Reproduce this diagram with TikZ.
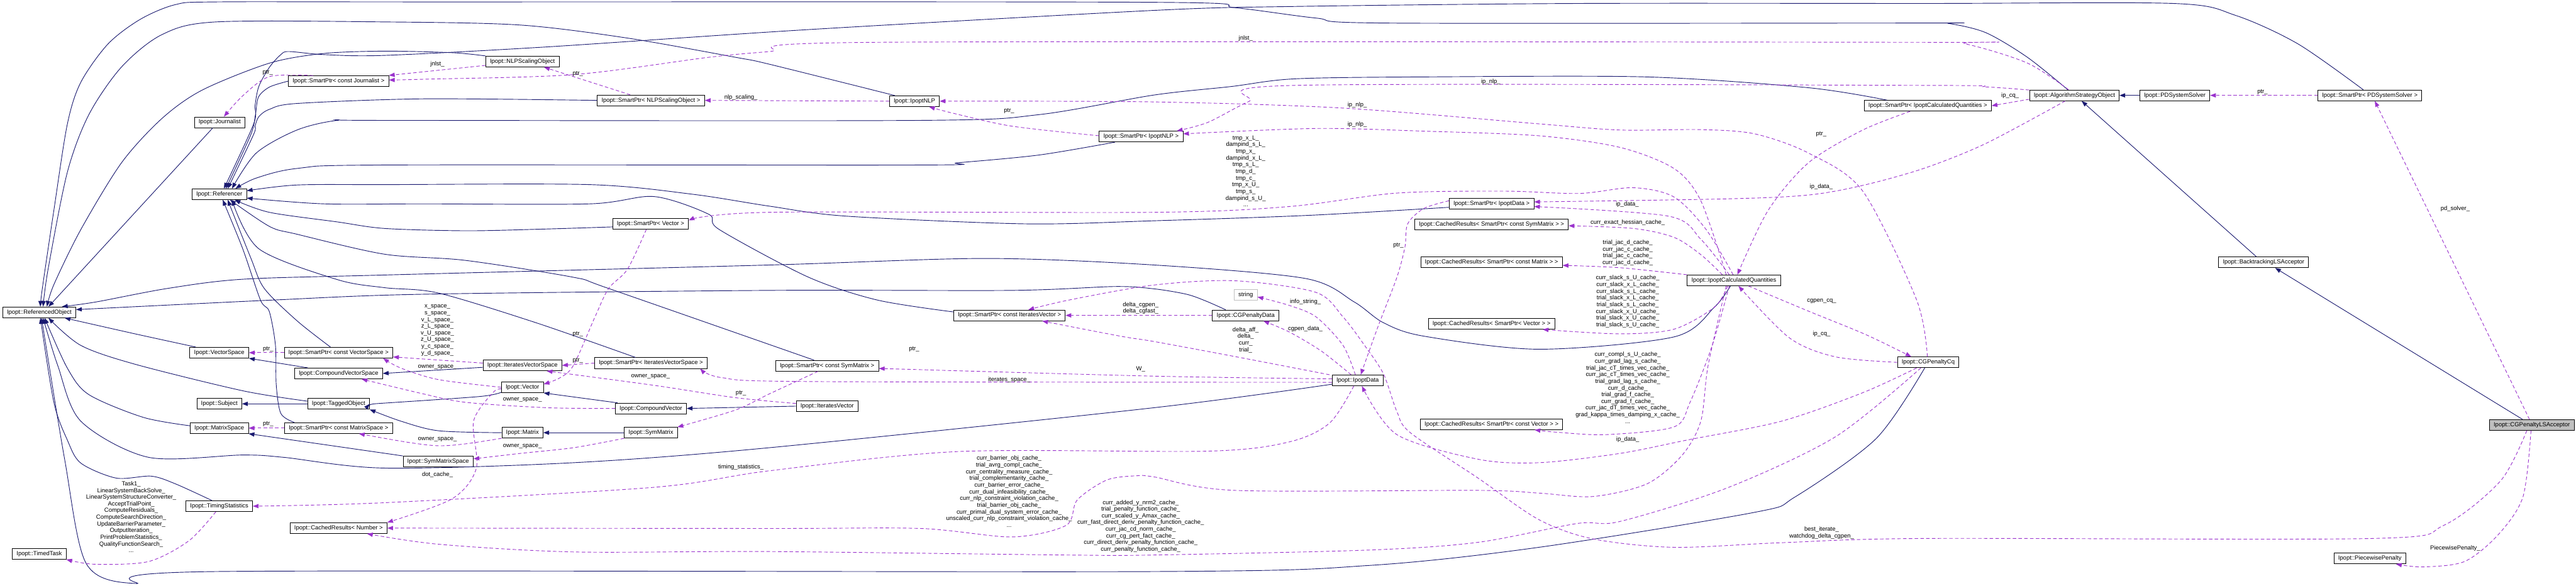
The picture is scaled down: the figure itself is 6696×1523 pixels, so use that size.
\documentclass[tikz,border=0pt]{standalone}
\usepackage{fontspec}
\setmainfont{Liberation Sans}
\usetikzlibrary{arrows.meta}
\definecolor{ibl}{HTML}{191970}
\definecolor{upl}{HTML}{9A32CD}
\newcommand\lbl{\fontsize{15.5}{17.4}\selectfont}
\tikzset{
 cls/.style={draw=black, fill=white, font=\lbl, inner xsep=11pt, inner ysep=0pt, minimum height=28pt, line width=1.3pt},
 inh/.style={draw=ibl, line width=1.5pt, -{Triangle[length=15pt,width=11pt]}},
 usg/.style={draw=upl, line width=1.5pt, dash pattern=on 9pt off 6pt, -{Triangle[length=15pt,width=11pt]}},
 elab/.style={font=\lbl, align=center, inner sep=0pt},
}
\begin{document}
\begin{tikzpicture}[x=1pt,y=-1pt]
\useasboundingbox (0,0) rectangle (6696,1523);
\fill[white] (0,0) rectangle (6696,1523);
% nodes
\node[cls] (RO) at (102,812) {Ipopt::ReferencedObject};
\node[cls] (TT) at (102,1440) {Ipopt::TimedTask};
\node[cls] (Jn) at (571,318) {Ipopt::Journalist};
\node[cls] (Rf) at (570,505) {Ipopt::Referencer};
\node[cls] (VS) at (570,917) {Ipopt::VectorSpace};
\node[cls] (Sub) at (570,1050) {Ipopt::Subject};
\node[cls] (MS) at (570,1113) {Ipopt::MatrixSpace};
\node[cls] (TS) at (570,1316) {Ipopt::TimingStatistics};
\node[cls] (SPJ) at (880,211) {Ipopt::SmartPtr< const Journalist >};
\node[cls] (SPVS) at (880,917) {Ipopt::SmartPtr< const VectorSpace >};
\node[cls] (CVS) at (880,971) {Ipopt::CompoundVectorSpace};
\node[cls] (TO) at (880,1050) {Ipopt::TaggedObject};
\node[cls] (SPMS) at (880,1113) {Ipopt::SmartPtr< const MatrixSpace >};
\node[cls] (CRN) at (880,1373) {Ipopt::CachedResults< Number >};
\node[cls] (NSO) at (1358,160) {Ipopt::NLPScalingObject};
\node[cls] (IVS) at (1358,950) {Ipopt::IteratesVectorSpace};
\node[cls] (Vec) at (1358,1007) {Ipopt::Vector};
\node[cls] (Mat) at (1358,1125) {Ipopt::Matrix};
\node[cls] (SMS) at (1139,1200) {Ipopt::SymMatrixSpace};
\node[cls] (SPNSO) at (1692,261) {Ipopt::SmartPtr< NLPScalingObject >};
\node[cls] (SPV) at (1691,582) {Ipopt::SmartPtr< Vector >};
\node[cls] (SPIVS) at (1692,944) {Ipopt::SmartPtr< IteratesVectorSpace >};
\node[cls] (CV) at (1692,1062) {Ipopt::CompoundVector};
\node[cls] (SM) at (1692,1125) {Ipopt::SymMatrix};
\node[cls] (SPSM) at (2150,951) {Ipopt::SmartPtr< const SymMatrix >};
\node[cls] (IV) at (2150,1056) {Ipopt::IteratesVector};
\node[cls] (NLP) at (2377,263) {Ipopt::IpoptNLP};
\node[cls] (SPIV) at (2624,820) {Ipopt::SmartPtr< const IteratesVector >};
\node[cls] (SPNLP) at (2966,355) {Ipopt::SmartPtr< IpoptNLP >};
\node[cls, draw=gray!50] (Str) at (3238,766) {string};
\node[cls] (CGD) at (3238,820) {Ipopt::CGPenaltyData};
\node[cls] (IpD) at (3529,989) {Ipopt::IpoptData};
\node[cls] (SPD) at (3877,530) {Ipopt::SmartPtr< IpoptData >};
\node[cls] (CRSM) at (3877,584) {Ipopt::CachedResults< SmartPtr< const SymMatrix > >};
\node[cls] (CRM) at (3877,681) {Ipopt::CachedResults< SmartPtr< const Matrix > >};
\node[cls] (CRV) at (3877,842) {Ipopt::CachedResults< SmartPtr< Vector > >};
\node[cls] (CRCV) at (3877,1103) {Ipopt::CachedResults< SmartPtr< const Vector > >};
\node[cls] (CQ) at (4507,729) {Ipopt::IpoptCalculatedQuantities};
\node[cls] (SPCQ) at (5011,275) {Ipopt::SmartPtr< IpoptCalculatedQuantities >};
\node[cls] (CGQ) at (5012,942) {Ipopt::CGPenaltyCq};
\node[cls] (ASO) at (5392,248) {Ipopt::AlgorithmStrategyObject};
\node[cls] (PDS) at (5653,248) {Ipopt::PDSystemSolver};
\node[cls] (BLS) at (5884,682) {Ipopt::BacktrackingLSAcceptor};
\node[cls] (SPPDS) at (6160,248) {Ipopt::SmartPtr< PDSystemSolver >};
\node[cls] (PP) at (6160,1452) {Ipopt::PiecewisePenalty};
\node[cls, fill=gray!50] (CGL) at (6581,1105) {Ipopt::CGPenaltyLSAcceptor};

% inheritance edges
\draw[inh] plot[smooth] coordinates {(SPJ.west) (701,226) (672,252) (664,298) (652,350) ([xshift=17]Rf.north)};
\draw[inh] plot[smooth] coordinates {(SPNSO.west) (1100,257) (772,269) (701,284) (673,303) (663,328) (659,350) ([xshift=22]Rf.north)};
\draw[inh] plot[smooth] coordinates {([xshift=-68]SPNLP.south) (2701,403) (2491,423) (2393,429) (1000,429) (772,438) (666,463) ([xshift=42]Rf.north)};
\draw[inh] plot[smooth] coordinates {([yshift=-9]SPD.west) (3400,560) (3000,574) (2666,582) (2200,562) (2000,536) (1800,505) (1533,480) (1000,480) (772,481) ([yshift=9]Rf.east)};
\draw[inh] plot[smooth] coordinates {([xshift=-106]SPCQ.north) (4700,228) (4280,200) (3700,200) (3365,205) (3200,225) (3000,247) (2701,298) (2393,313) (1000,313) (877,313) (772,338) (666,398) ([xshift=33]Rf.north)};
\draw[inh] plot[smooth] coordinates {([xshift=-17]SPPDS.north) (5973,114) (5811,40) (5649,9) (5000,9) (4100,9) (3351,17) (3000,27) (2100,77) (1421,122) (1000,144) (842,142) (751,134) (730,142) (701,174) (673,224) (663,274) (659,323) ([xshift=12]Rf.north)};
\draw[inh] plot[smooth] coordinates {([yshift=-8]SPV.west) (1400,596) (1210,600) (1000,594) (877,577) (700,552) ([xshift=40]Rf.south)};
\draw[inh] plot[smooth] coordinates {([xshift=-21]SPVS.north) (772,834) (687,750) (652,671) ([xshift=22]Rf.south)};
\draw[inh] plot[smooth] coordinates {([xshift=-115]SPMS.north) (730,1075) (718,1000) (716,898) (700,810) (677,780) (631,647) ([xshift=9]Rf.south)};
\draw[inh] plot[smooth] coordinates {([xshift=-40]SPIVS.north) (1393,839) (1140,762) (1000,748) (877,727) (673,647) ([xshift=33]Rf.south)};
\draw[inh] plot[smooth] coordinates {([xshift=-34]SPSM.north) (1582,750) (1491,721) (1210,677) (1000,661) (772,609) (701,589) ([xshift=28]Rf.south)};
\draw[inh] plot[smooth] coordinates {([yshift=9]SPIV.west) (2280,780) (2100,720) (1870,597) (1842,557) (1700,511) (1533,530) (1100,530) (842,530) ([yshift=-10]Rf.east)};
\draw[inh] ([xshift=-18]Jn.south) -- ([xshift=24]RO.north);
\draw[inh] plot[smooth] coordinates {(NSO.north west) (1175,137) (1000,133) (842,139) (701,164) (526,234) (421,308) (316,423) (210,597) (140,740) ([xshift=20]RO.north)};
\draw[inh] plot[smooth] coordinates {([xshift=-51]NLP.north) (2000,167) (1912,149) (1631,99) (1351,65) (1000,57) (561,57) (421,90) (316,174) (231,298) (175,448) (125,700) ([xshift=10]RO.north)};
\draw[inh] plot[smooth] coordinates {([xshift=-17]ASO.north) (5270,149) (5162,85) (5065,61) (5000,60) (3610,60) (3421,47) (3210,20) (3000,6) (1100,5) (561,5) (456,12) (365,50) (281,114) (210,214) (175,323) (140,547) (110,750) ([xshift=3]RO.north)};
\draw[inh] plot[smooth] coordinates {([xshift=-9]CQ.south) (4456,799) (4351,876) (4000,908) (3701,874) (3596,839) (3520,785) (3393,724) (3000,689) (2561,672) (2000,689) (1000,715) (631,726) (435,750) (250,785) ([xshift=59]RO.north)};
\draw[inh] plot[smooth] coordinates {([yshift=-10]IpD.west) (3000,1060) (2000,1164) (1491,1203) (1000,1217) (737,1189) (631,1183) (386,1189) (210,1095) (150,950) ([xshift=10]RO.south)};
\draw[inh] plot[smooth] coordinates {([xshift=-61]VS.north) (351,868) ([xshift=66]RO.south)};
\draw[inh] plot[smooth] coordinates {([yshift=7]TO.west) (631,1016) (351,947) (210,898) ([xshift=24]RO.south)};
\draw[inh] plot[smooth] coordinates {([yshift=6]MS.west) (372,1085) (231,1026) (175,957) ([xshift=14]RO.south)};
\draw[inh] plot[smooth] coordinates {([xshift=-19]TS.north) (456,1258) (393,1238) (302,1243) (210,1204) (175,1144) (140,1046) ([xshift=3]RO.south)};
\draw[inh] plot[smooth] coordinates {([xshift=-52]CGD.north) (3133,782) (3084,765) (3000,751) (2898,745) (2631,755) (2000,755) (1100,765) (712,780) ([yshift=7]RO.east)};
\draw[inh] plot[smooth] coordinates {([xshift=-9]CGQ.south) (4877,1140) (4666,1292) (4561,1332) (4000,1423) (3561,1470) (3000,1486) (561,1486) (351,1517) (224,1465) (168,1194) ([xshift=6]RO.south)};
\draw[inh] (PDS.west) -- (ASO.east);
\draw[inh] ([xshift=-19]BLS.north) -- ([xshift=19]ASO.south);
\draw[inh] ([xshift=-24]CGL.north) -- ([xshift=30]BLS.south);
\draw[inh] ([xshift=-80]CVS.north) -- (VS.south east);
\draw[inh] ([yshift=-5]IVS.west) -- (CVS.east);
\draw[inh] (TO.west) -- (Sub.east);
\draw[inh] plot[smooth] coordinates {([yshift=-13]Vec.west) (1246,1031) (1000,1048) (TO.east)};
\draw[inh] plot[smooth] coordinates {(Mat.west) (1140,1120) (1042,1095) (TO.south east)};
\draw[inh] ([xshift=-87]CV.north) -- (Vec.south east);
\draw[inh] (SM.west) -- (Mat.east);
\draw[inh] (IV.west) -- (CV.east);
\draw[inh] (SMS.north west) -- (MS.south east);

% usage edges
\draw[usg] plot[smooth] coordinates {([xshift=-66]SPJ.north) (701,199) (631,249) ([xshift=11]Jn.north)};
\draw[usg] ([yshift=-10]NSO.west) -- ([yshift=15]SPJ.east);
\draw[usg] plot[smooth] coordinates {([xshift=-15]ASO.north) (5270,164) (5108,114) (5000,110) (2280,110) (2000,134) (1842,149) (1491,194) (1100,206) ([yshift=3]SPJ.east)};
\draw[usg] ([xshift=-54]SPNSO.north) -- ([xshift=56]NSO.south);
\draw[usg] (NLP.west) -- (SPNSO.east);
\draw[usg] plot[smooth] coordinates {([yshift=2]SPNLP.west) (2630,328) (2480,295) ([xshift=38]NLP.south)};
\draw[usg] plot[smooth] coordinates {([yshift=14]ASO.west) (5162,226) (5000,222) (3365,222) (3246,264) (3140,318) ([xshift=93]SPNLP.north)};
\draw[usg] plot[smooth] coordinates {([xshift=-20]CQ.north) (4421,522) (4351,438) (4210,383) (4000,353) (3701,341) (3421,334) ([yshift=7]SPNLP.east)};
\draw[usg] plot[smooth] coordinates {([xshift=-2]CGQ.north) (4982,780) (4842,497) (4701,398) (4561,348) (4421,337) (4210,338) (4000,322) (3491,281) (3000,265) (NLP.east)};
\draw[usg] plot[smooth] coordinates {([yshift=8]SPD.west) (3701,542) (3659,582) (3652,642) (3631,721) (3582,849) ([xshift=8]IpD.north)};
\draw[usg] plot[smooth] coordinates {([xshift=-24]ASO.south) (5162,373) (5000,438) (4842,482) (4701,507) (4491,517) ([yshift=5]SPD.east)};
\draw[usg] plot[smooth] coordinates {([xshift=-12]CQ.north) (4421,622) (4337,562) ([yshift=-7]SPD.east)};
\draw[usg] plot[smooth] coordinates {([xshift=-2]CQ.north) (4435,597) (4351,512) (4245,488) (4105,503) (3912,497) (3631,502) (3351,537) (3000,552) (2000,552) ([yshift=9]SPV.east)};
\draw[usg] plot[smooth] coordinates {([xshift=-30]CQ.north) (4421,662) (4351,617) (4246,594) ([yshift=-3]CRSM.east)};
\draw[usg] plot[smooth] coordinates {(CQ.north west) (4210,696) ([yshift=-9]CRM.east)};
\draw[usg] plot[smooth] coordinates {([xshift=-16]CQ.south) (4456,799) (4351,856) (4210,868) ([xshift=133]CRV.south)};
\draw[usg] plot[smooth] coordinates {([xshift=-12]CQ.south) (4450,900) (4393,1046) (4351,1110) (4175,1130) (4050,1124) ([xshift=112]CRCV.south)};
\draw[usg] plot[smooth] coordinates {([xshift=-46]SPCQ.south) (4842,338) (4701,423) (4596,547) ([xshift=9]CQ.north)};
\draw[usg] ([yshift=-10]ASO.west) -- (SPCQ.east);
\draw[usg] plot[smooth] coordinates {([xshift=38]CQ.south) (4701,809) (4850,870) ([xshift=-44]CGQ.north)};
\draw[usg] plot[smooth] coordinates {(CGQ.west) (4772,928) (4652,879) ([xshift=12]CQ.south)};
\draw[usg] plot[smooth] coordinates {([xshift=-30]CGQ.south) (4842,1021) (4631,1095) (4386,1144) (4210,1179) (4000,1203) (3842,1194) (3631,1130) ([xshift=11]IpD.south)};
\draw[usg] plot[smooth] coordinates {([xshift=-19]CGQ.south) (4772,1135) (4491,1268) (4210,1356) (4100,1361) (3842,1410) (3561,1430) (3000,1443) (2771,1443) (2000,1434) (1491,1435) (1140,1415) ([xshift=74]CRN.south)};
\draw[usg] plot[smooth] coordinates {([xshift=-20]CQ.south) (4440,950) (4421,1095) (4372,1184) (4281,1258) (4140,1291) (4000,1282) (3842,1275) (3210,1275) (3000,1240) (2954,1237) (2877,1248) (2800,1300) (2771,1366) (2631,1396) (2393,1374) (2000,1374) (CRN.east)};
\draw[usg] plot[smooth] coordinates {([xshift=-13]CGL.south) (6500,1250) (6352,1366) (6168,1400) (5000,1400) (4631,1411) (4351,1423) (4140,1401) (4000,1351) (3842,1243) (3666,1125) (3631,1070) (3596,972) (3547,898) (3491,824) (3420,760) (3210,730) (3000,741) (2779,780) ([xshift=49]SPIV.north)};
\draw[usg] plot[smooth] coordinates {([xshift=-73]IpD.north) (3210,927) (3000,888) (2912,874) ([xshift=85]SPIV.south)};
\draw[usg] (CGD.west) -- (SPIV.east);
\draw[usg] plot[smooth] coordinates {([xshift=-6]IpD.north) (3491,898) (3421,824) (3351,794) ([yshift=-6]Str.east)};
\draw[usg] plot[smooth] coordinates {([xshift=-17]IpD.north) (3435,913) (3351,863) ([xshift=46]CGD.south)};
\draw[usg] plot[smooth] coordinates {([yshift=4]IpD.west) (3000,978) ([yshift=-7]SPSM.east)};
\draw[usg] plot[smooth] coordinates {([yshift=-5]IpD.west) (2100,992) (1877,982) ([xshift=128]SPIVS.south)};
\draw[usg] plot[smooth] coordinates {([xshift=-10]IpD.south) (3456,1100) (3351,1149) (3140,1173) (2491,1174) (2000,1224) (1700,1267) (1000,1307) (TS.east)};
\draw[usg] plot[smooth] coordinates {([xshift=-9]TS.south) (491,1406) (386,1460) (246,1467) (TT.south east)};
\draw[usg] (SPVS.west) -- (VS.east);
\draw[usg] (SPMS.west) -- (MS.east);
\draw[usg] ([yshift=6]IVS.west) -- ([yshift=-11]SPVS.east);
\draw[usg] plot[smooth] coordinates {(Vec.west) (1140,987) (1042,957) ([xshift=116]SPVS.south)};
\draw[usg] plot[smooth] coordinates {(CV.west) (1421,1060) (1210,1046) (1100,1024) ([xshift=60]CVS.south)};
\draw[usg] plot[smooth] coordinates {([yshift=7]IV.west) (1912,1034) (1701,1002) ([xshift=63]IVS.south)};
\draw[usg] (SPIVS.west) -- (IVS.east);
\draw[usg] plot[smooth] coordinates {([xshift=-11]SPV.south) (1631,700) (1582,750) (1547,823) (1491,949) (1456,982) ([yshift=8]Vec.east)};
\draw[usg] plot[smooth] coordinates {([xshift=-24]SPSM.south) (2000,1024) (1912,1066) ([xshift=69]SM.north)};
\draw[usg] plot[smooth] coordinates {(Mat.south west) (1210,1154) (1140,1159) (1060,1150) ([xshift=53]SPMS.south)};
\draw[usg] plot[smooth] coordinates {(SM.south west) (1491,1164) (1351,1179) ([yshift=7]SMS.east)};
\draw[usg] plot[smooth] coordinates {([yshift=-4]Vec.west) (1281,1021) (1231,1095) (1238,1218) (1175,1297) (CRN.north east)};
\draw[usg] (SPPDS.west) -- (PDS.east);
\draw[usg] ([xshift=-6]CGL.north) -- ([xshift=13]SPPDS.south);
\draw[usg] plot[smooth] coordinates {([xshift=-2]CGL.south) (6558,1292) (6493,1391) (6406,1460) (6298,1474) ([xshift=68]PP.south)};

% edge labels
\node[elab] at (696,188) {ptr\_};
\node[elab] at (1137,167) {jnlst\_};
\node[elab] at (1502,192) {ptr\_};
\node[elab] at (1926,253) {nlp\_scaling\_};
\node[elab] at (2623,288) {ptr\_};
\node[elab] at (3238,100) {jnlst\_};
\node[elab] at (3875,212) {ip\_nlp\_};
\node[elab] at (3528,273) {ip\_nlp\_};
\node[elab] at (3528,324) {ip\_nlp\_};
\node[elab] at (3238,445) {tmp\_x\_L\_\\dampind\_s\_L\_\\tmp\_x\_\\dampind\_x\_L\_\\tmp\_s\_L\_\\tmp\_d\_\\tmp\_c\_\\tmp\_x\_U\_\\tmp\_s\_\\dampind\_s\_U\_\\...};
\node[elab] at (3635,639) {ptr\_};
\node[elab] at (4734,349) {ptr\_};
\node[elab] at (4734,486) {ip\_data\_};
\node[elab] at (4230,531) {ip\_data\_};
\node[elab] at (4231,579) {curr\_exact\_hessian\_cache\_};
\node[elab] at (4231,657) {trial\_jac\_d\_cache\_\\curr\_jac\_c\_cache\_\\trial\_jac\_c\_cache\_\\curr\_jac\_d\_cache\_};
\node[elab] at (4231,784) {curr\_slack\_s\_U\_cache\_\\curr\_slack\_x\_L\_cache\_\\curr\_slack\_s\_L\_cache\_\\trial\_slack\_x\_L\_cache\_\\trial\_slack\_s\_L\_cache\_\\curr\_slack\_x\_U\_cache\_\\trial\_slack\_x\_U\_cache\_\\trial\_slack\_s\_U\_cache\_};
\node[elab] at (4231,1008) {curr\_compl\_s\_U\_cache\_\\curr\_grad\_lag\_s\_cache\_\\trial\_jac\_cT\_times\_vec\_cache\_\\curr\_jac\_cT\_times\_vec\_cache\_\\trial\_grad\_lag\_s\_cache\_\\curr\_d\_cache\_\\trial\_grad\_f\_cache\_\\curr\_grad\_f\_cache\_\\curr\_jac\_dT\_times\_vec\_cache\_\\grad\_kappa\_times\_damping\_x\_cache\_\\...};
\node[elab] at (4231,1143) {ip\_data\_};
\node[elab] at (5225,248) {ip\_cq\_};
\node[elab] at (5881,239) {ptr\_};
\node[elab] at (6382,542) {pd\_solver\_};
\node[elab] at (4735,783) {cgpen\_cq\_};
\node[elab] at (4735,868) {ip\_cq\_};
\node[elab] at (4735,1385) {best\_iterate\_\\watchdog\_delta\_cgpen\_};
\node[elab] at (6382,1426) {PiecewisePenalty\_};
\node[elab] at (697,908) {ptr\_};
\node[elab] at (697,1103) {ptr\_};
\node[elab] at (341,1344) {Task1\_\\LinearSystemBackSolve\_\\LinearSystemStructureConverter\_\\AcceptTrialPoint\_\\ComputeResiduals\_\\ComputeSearchDirection\_\\UpdateBarrierParameter\_\\OutputIteration\_\\PrintProblemStatistics\_\\QualityFunctionSearch\_\\...};
\node[elab] at (1137,859) {x\_space\_\\s\_space\_\\v\_L\_space\_\\z\_L\_space\_\\v\_U\_space\_\\z\_U\_space\_\\y\_c\_space\_\\y\_d\_space\_};
\node[elab] at (1137,954) {owner\_space\_};
\node[elab] at (1502,868) {ptr\_};
\node[elab] at (1502,938) {ptr\_};
\node[elab] at (1691,979) {owner\_space\_};
\node[elab] at (1926,1023) {ptr\_};
\node[elab] at (1358,1040) {owner\_space\_};
\node[elab] at (1137,1143) {owner\_space\_};
\node[elab] at (1358,1160) {owner\_space\_};
\node[elab] at (1137,1235) {dot\_cache\_};
\node[elab] at (1926,1215) {timing\_statistics\_};
\node[elab] at (2965,801) {delta\_cgpen\_\\delta\_cgfast\_};
\node[elab] at (2376,908) {ptr\_};
\node[elab] at (2965,960) {W\_};
\node[elab] at (2623,987) {iterates\_space\_};
\node[elab] at (2623,1278) {curr\_barrier\_obj\_cache\_\\trial\_avrg\_compl\_cache\_\\curr\_centrality\_measure\_cache\_\\trial\_complementarity\_cache\_\\curr\_barrier\_error\_cache\_\\curr\_dual\_infeasibility\_cache\_\\curr\_nlp\_constraint\_violation\_cache\_\\trial\_barrier\_obj\_cache\_\\curr\_primal\_dual\_system\_error\_cache\_\\unscaled\_curr\_nlp\_constraint\_violation\_cache\_\\...};
\node[elab] at (2965,1368) {curr\_added\_y\_nrm2\_cache\_\\trial\_penalty\_function\_cache\_\\curr\_scaled\_y\_Amax\_cache\_\\curr\_fast\_direct\_deriv\_penalty\_function\_cache\_\\curr\_jac\_cd\_norm\_cache\_\\curr\_cg\_pert\_fact\_cache\_\\curr\_direct\_deriv\_penalty\_function\_cache\_\\curr\_penalty\_function\_cache\_};
\node[elab] at (3393,785) {info\_string\_};
\node[elab] at (3393,855) {cgpen\_data\_};
\node[elab] at (3238,884) {delta\_aff\_\\delta\_\\curr\_\\trial\_};
\end{tikzpicture}
\end{document}
